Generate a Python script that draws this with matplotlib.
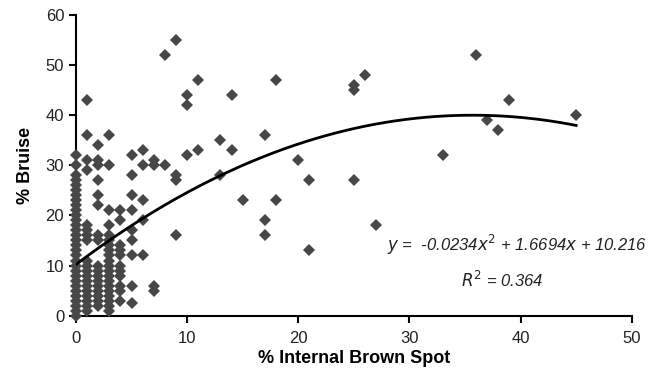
import numpy as np
import matplotlib.pyplot as plt

plt.rcParams['font.family'] = ['Liberation Sans', 'DejaVu Sans']

# scattered points (% internal brown spot, % bruise)
spread_x = [9, 8, 11, 10, 10, 14, 18, 25, 25, 26, 36, 39, 37, 38, 45, 33,
            10, 11, 13, 14, 17, 13, 15, 18, 17, 17, 20, 21, 21, 25, 27,
            9, 9, 9, 8, 7, 7, 6, 6, 6, 6, 6, 7, 7, 1, 1, 3, 2, 5]
spread_y = [55, 52, 47, 44, 42, 44, 47, 46, 45, 48, 52, 43, 39, 37, 40, 32,
            32, 33, 35, 33, 36, 28, 23, 23, 19, 16, 31, 27, 13, 27, 18,
            28, 27, 16, 30, 31, 30, 33, 30, 23, 19, 12, 6, 5, 43, 36, 36, 34, 32]

# dense cluster near zero, column by column
col0 = [0, 1, 2, 3, 4, 5, 6, 7, 8, 9, 10, 11, 12, 13, 14, 15, 16, 17, 18,
        19, 20, 21, 22, 23, 24, 25, 26, 27, 28, 30, 32]
col1 = [1, 2, 3, 4, 5, 6, 7, 8, 9, 10, 11, 15, 16, 17, 18, 29, 31]
col2 = [2, 3, 4, 5, 6, 7, 8, 9, 10, 15, 16, 22, 24, 27, 30, 31]
col3 = [1, 2, 3, 4, 5, 6, 7, 8, 9, 10, 11, 12, 13, 14, 15, 16, 18, 21, 30]
col4 = [3, 5, 6, 8, 9, 10, 12, 13, 14, 19, 21]
col5 = [2.5, 6, 12, 15, 17, 21, 24, 28]

# trendline printed on the chart
coef = [-0.0234, 1.6694, 10.216]
x_fit_max = 45

xs = list(spread_x)
ys = list(spread_y)
for cx, col in enumerate([col0, col1, col2, col3, col4, col5]):
    xs += [cx] * len(col)
    ys += col

fig = plt.figure(figsize=(6.58, 3.78), dpi=100)
ax = fig.add_axes([0.1155, 0.165, 0.8445, 0.7955])

ax.plot(xs, ys, 'D', color='#474747', markersize=6, markeredgewidth=0, clip_on=False, zorder=3)

xf = np.linspace(0, x_fit_max, 200)
ax.plot(xf, np.polyval(coef, xf), color='black', lw=2, zorder=4)

ax.set_xlim(0, 50)
ax.set_ylim(0, 60)
ax.set_xticks(range(0, 51, 10))
ax.set_yticks(range(0, 61, 10))
for s in ['top', 'right']:
    ax.spines[s].set_visible(False)
for s in ['left', 'bottom']:
    ax.spines[s].set_linewidth(1.5)
ax.tick_params(direction='out', length=5, width=1.5, labelsize=12, labelcolor='#222222')
ax.tick_params(axis='x', pad=6)

ax.set_xlabel('% Internal Brown Spot', fontsize=13, fontweight='bold', labelpad=3)
ax.set_ylabel('% Bruise', fontsize=13, fontweight='bold', labelpad=8)

ax.text(39.7, 14.1, r'$y$ =  -0.0234$x^2$ + 1.6694$x$ + 10.216', fontsize=12,
        style='italic', ha='center', va='center', color='#222222')
ax.text(38.4, 7.1, r'$R^2$ = 0.364', fontsize=12, style='italic', ha='center', va='center',
        color='#222222')

fig.savefig('out.png', dpi=100)
